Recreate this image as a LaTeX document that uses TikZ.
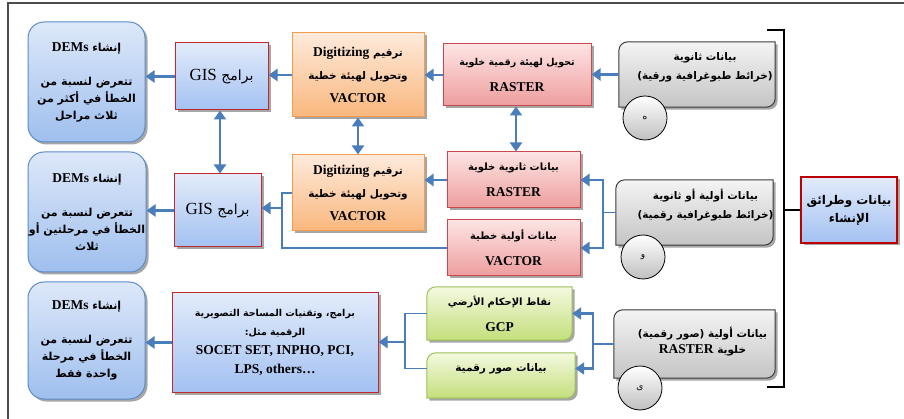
\documentclass[tikz,border=0pt]{standalone}
\usepackage{fontspec}
\setmainfont{Liberation Serif}
\newfontfamily\arabicfont[Script=Arabic]{DejaVu Sans}
\TeXXeTstate=1
\usepackage{tikz}
\usetikzlibrary{calc}
\usetikzlibrary{arrows.meta}
\usetikzlibrary{backgrounds}
\usetikzlibrary{shadows}
\tikzset{>={Triangle[length=9pt,width=12pt]}}

\definecolor{arrblue}{HTML}{4A7EBB}
\definecolor{demtop}{HTML}{DDE8F9}
\definecolor{dembot}{HTML}{9FBFEE}
\definecolor{demline}{HTML}{5B8BC9}
\definecolor{bluetop}{HTML}{E2EBFA}
\definecolor{bluebot}{HTML}{A3C1F2}
\definecolor{redline}{HTML}{C0282E}
\definecolor{ortop}{HTML}{FEEADB}
\definecolor{orbot}{HTML}{F9B77D}
\definecolor{orline}{HTML}{F59D4E}
\definecolor{pktop}{HTML}{FDE4E4}
\definecolor{pkbot}{HTML}{EE9D9D}
\definecolor{pkline}{HTML}{C8484D}
\definecolor{grtop}{HTML}{F4F9E0}
\definecolor{grbot}{HTML}{C3DF7B}
\definecolor{grline}{HTML}{9CC05A}
\definecolor{gytop}{HTML}{F4F4F4}
\definecolor{gybot}{HTML}{C4C4C4}
\definecolor{gyline}{HTML}{3A3A3A}

\newcommand\arl[1]{{\arabicfont\bfseries\beginR #1\endR}}
\newcommand\lat[1]{{\rmfamily\bfseries\fontsize{13.5}{13.5}\selectfont #1}}
\newcommand\diagshape[2]{\path[#2] (#1.south west) -- ([yshift=-9pt]#1.north west) arc[start angle=180,end angle=90,radius=9pt] -- (#1.north east) -- ([yshift=9pt]#1.south east) arc[start angle=0,end angle=-90,radius=9pt] -- cycle;}

\tikzset{
  arr/.style={->,draw=arrblue,line width=2.6pt},
  darr/.style={<->,draw=arrblue,line width=2.6pt},
  link/.style={draw=arrblue,line width=1.8pt},
  brk/.style={draw=black,line width=1.4pt},
  frame/.style={draw=black!70,line width=1.2pt},
  boxshadow/.style={drop shadow={shadow xshift=2.5pt,shadow yshift=-2.5pt,fill=black,opacity=.35}},
  dembox/.style={draw=demline,line width=1pt,rounded corners=16pt,top color=demtop,bottom color=dembot,boxshadow,align=center,inner xsep=0.5pt,font=\fontsize{11}{17}\selectfont},
  gisbox/.style={draw=redline,line width=1pt,top color=bluetop,bottom color=bluebot,boxshadow,align=center},
  orbox/.style={draw=orline,line width=1pt,top color=ortop,bottom color=orbot,boxshadow,align=center,font=\fontsize{10.5}{23}\selectfont},
  pkbox/.style={draw=pkline,line width=1pt,top color=pktop,bottom color=pkbot,boxshadow,align=center,font=\fontsize{10}{26}\selectfont},
  graypath/.style={draw=gyline,line width=1pt,top color=gytop,bottom color=gybot,boxshadow},
  greenpath/.style={draw=grline,line width=1pt,top color=grtop,bottom color=grbot,boxshadow},
  boxtext/.style={align=center,font=\fontsize{10.5}{19}\selectfont},
  circ/.style={circle,draw=black,line width=.8pt,minimum size=44pt,inner sep=0pt,top color=white,bottom color=black!25,font=\fontsize{9}{9}\selectfont}
}

\begin{document}
\begin{tikzpicture}[x=1pt,y=-1pt]
	\useasboundingbox (0,0) rectangle (904,419);
	\draw[frame] (8,419) -- (8,3) -- (904,3);

	% DEMs column
	\node[dembox,minimum width=117pt,minimum height=120pt] (dem1) at (86.5,82) {\arl{إنشاء \lat{DEMs}}\\[17pt]\arl{تتعرض لنسبة من}\\\arl{الخطأ في أكثر من}\\\arl{ثلاث مراحل}};
	\node[dembox,minimum width=118pt,minimum height=120pt] (dem2) at (87,212) {\arl{إنشاء \lat{DEMs}}\\[17pt]\arl{تتعرض لنسبة من}\\\arl{الخطأ في مرحلتين أو}\\\arl{ثلاث}};
	\node[dembox,minimum width=117pt,minimum height=117pt] (dem3) at (86.5,340.5) {\arl{إنشاء \lat{DEMs}}\\[17pt]\arl{تتعرض لنسبة من}\\\arl{الخطأ في مرحلة}\\\arl{واحدة فقط}};

	% GIS and software
	\node[gisbox,minimum width=93pt,minimum height=67pt] (gis1) at (221.5,76.5) {{\arabicfont\fontsize{14}{16}\selectfont\beginR برامج {\rmfamily\fontsize{17}{17}\selectfont GIS}\endR}};
	\node[gisbox,minimum width=87pt,minimum height=73pt] (gis2) at (217.5,210.5) {{\arabicfont\fontsize{14}{16}\selectfont\beginR برامج {\rmfamily\fontsize{17}{17}\selectfont GIS}\endR}};
	\node[gisbox,minimum width=206pt,minimum height=99pt,font=\fontsize{9.5}{19}\selectfont] (prog) at (275,342.5) {\arl{برامج، وتقنيات المساحة التصويرية}\\\arl{الرقمية مثل:}\\\lat{SOCET SET, INPHO, PCI,}\\\lat{LPS, others…}};

	% digitizing
	\node[orbox,minimum width=132pt,minimum height=84pt] (dig1) at (358,75) {\arl{ترقيم \lat{Digitizing}}\\\arl{وتحويل لهيئة خطية}\\\lat{VACTOR}};
	\node[orbox,minimum width=132pt,minimum height=76pt] (dig2) at (358,193) {\arl{ترقيم \lat{Digitizing}}\\\arl{وتحويل لهيئة خطية}\\\lat{VACTOR}};

	% raster / vector data
	\node[pkbox,minimum width=148pt,minimum height=62pt,font=\fontsize{9.5}{26}\selectfont] (ras1) at (517,75) {\arl{تحويل لهيئة رقمية خلوية}\\\lat{RASTER}};
	\node[pkbox,minimum width=133pt,minimum height=56pt] (ras2) at (513.5,180) {\arl{بيانات ثانوية خلوية}\\\lat{RASTER}};
	\node[pkbox,minimum width=133pt,minimum height=56pt] (vec) at (513.5,248) {\arl{بيانات أولية خطية}\\\lat{VACTOR}};

	% green and gray boxes (shapes behind)
	\node[minimum width=145pt,minimum height=53pt] (gcp) at (499.5,313.5) {};
	\node[minimum width=148pt,minimum height=45pt] (pho) at (501,375.5) {};
	\node[minimum width=156pt,minimum height=65pt] (src1) at (697,74.5) {};
	\node[minimum width=157pt,minimum height=65pt] (src2) at (694.5,212.5) {};
	\node[minimum width=161pt,minimum height=68pt] (src3) at (694.5,344) {};
	\begin{scope}[on background layer]
		\diagshape{gcp}{greenpath}
		\diagshape{pho}{greenpath}
		\diagshape{src1}{graypath}
		\diagshape{src2}{graypath}
		\diagshape{src3}{graypath}
	\end{scope}
	\node[boxtext,font=\fontsize{10}{26}\selectfont] (gcpt) at (gcp.center) {\arl{نقاط الإحكام الأرضي}\\\lat{GCP}};
	\node[boxtext] (phot) at ([yshift=6.5pt]pho.center) {\arl{بيانات صور رقمية}};
	\node[boxtext] (src1t) at ([shift={(8pt,7pt)}]src1.center) {\arl{بيانات ثانوية}\\\arl{(خرائط طبوغرافية ورقية)}};
	\node[boxtext] (src2t) at ([shift={(11pt,7pt)}]src2.center) {\arl{بيانات أولية أو ثانوية}\\\arl{(خرائط طبوغرافية رقمية)}};
	\node[boxtext,font=\fontsize{10.5}{16}\selectfont] (src3t) at ([shift={(8pt,2pt)}]src3.center) {\arl{بيانات أولية (صور رقمية)}\\\arl{خلوية \lat{RASTER}}};
	\node[circ] (c1) at (645,118) {\arabicfont ه};
	\node[circ] (c2) at (643,257) {\arabicfont و};
	\node[circ] (c3) at (640,388) {\arabicfont ى};

	% main box and bracket
	\node[gisbox,draw=red!75!black,line width=2pt,minimum width=96pt,minimum height=66pt,font=\fontsize{12}{18}\selectfont] (main) at (849,210) {\arl{بيانات وطرائق}\\\arl{الإنشاء}};
	\coordinate (br1) at (784,30);
	\coordinate (br2) at (784,387);
	\draw[brk] ([xshift=-17pt]br1) -- (br1) -- (br2) -- ([xshift=-17pt]br2);
	\draw[brk] (br1 |- main.west) -- (main.west);

	% top row
	\draw[arr] (src1.west) -- (src1.west -| ras1.east);
	\draw[arr] (ras1.west) -- (ras1.west -| dig1.east);
	\draw[arr] (dig1.west) -- (dig1.west -| gis1.east);
	\draw[arr] (gis1.west) -- (gis1.west -| dem1.east);
	\draw[darr] ([xshift=-1pt]ras1.south) -- ([xshift=-1pt]ras1.south |- ras2.north);
	\draw[darr] (dig1.south) -- (dig2.north);
	\draw[darr] ([xshift=-1.5pt]gis1.south) -- ([xshift=-1.5pt]gis1.south |- gis2.north);

	% middle row
	\coordinate (s2) at (603,212.5);
	\draw[link] (src2.west) -- (s2);
	\draw[arr] (s2) |- (ras2.east);
	\draw[arr] (s2) |- (vec.east);
	\draw[arr] (ras2.west) -- (ras2.west -| dig2.east);
	\coordinate (m2) at (282,208);
	\draw[link] (dig2.west) -| (m2);
	\draw[link] (vec.west) -| (m2);
	\draw[arr] (m2) -- (m2 -| gis2.east);
	\draw[arr] (gis2.west) -- (gis2.west -| dem2.east);

	% bottom row
	\coordinate (s3) at (593,344);
	\draw[link] (src3.west) -- (s3);
	\draw[arr] (s3) |- (gcp.east);
	\draw[arr] (s3) |- ([yshift=7pt]pho.east);
	\coordinate (m3) at (405,342);
	\draw[link] (gcp.west) -| (m3);
	\draw[link] ([yshift=7pt]pho.west) -| (m3);
	\draw[arr] (m3) -- (m3 -| prog.east);
	\draw[arr] (prog.west) -- (prog.west -| dem3.east);
\end{tikzpicture}
\end{document}
